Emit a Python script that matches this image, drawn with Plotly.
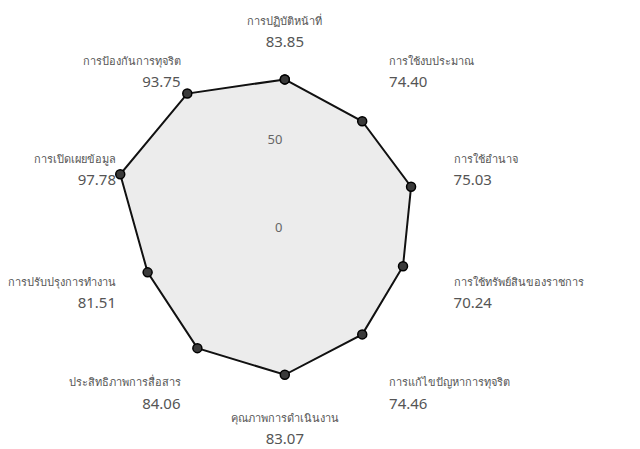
import plotly.graph_objects as go

# ITA indicators (Thai) and their scores
categories = [
    "การปฏิบัติหน้าที่",
    "การใช้งบประมาณ",
    "การใช้อำนาจ",
    "การใช้ทรัพย์สินของราชการ",
    "การแก้ไขปัญหาการทุจริต",
    "คุณภาพการดำเนินงาน",
    "ประสิทธิภาพการสื่อสาร",
    "การปรับปรุงการทำงาน",
    "การเปิดเผยข้อมูล",
    "การป้องกันการทุจริต",
]
scores = [83.85, 74.40, 75.03, 70.24, 74.46, 83.07, 84.06, 81.51, 97.78, 93.75]
radial_ticks = [0, 50]

# category name on top, score underneath
tick_text = [
    "<span style='font-size:11px'>%s</span><br><span style='font-size:15px'>%.2f</span>" % (c, v)
    for c, v in zip(categories, scores)
]

fig = go.Figure()
fig.add_trace(go.Scatterpolar(
    r=scores + scores[:1],
    theta=categories + categories[:1],
    mode="lines+markers",
    fill="toself",
    fillcolor="#ececec",
    line=dict(color="#111111", width=2),
    marker=dict(size=9, color="#3a3a3a", line=dict(color="#000000", width=1.5)),
    showlegend=False,
))

fig.update_layout(
    width=640,
    height=449,
    margin=dict(l=0, r=0, t=0, b=0),
    paper_bgcolor="white",
    font=dict(family="Noto Sans, DejaVu Sans, sans-serif", color="#555555"),
    polar=dict(
        domain=dict(x=[0.156, 0.709], y=[0.116, 0.905]),
        bgcolor="white",
        angularaxis=dict(
            direction="clockwise",
            rotation=90,
            showline=False,
            showgrid=False,
            ticks="",
            tickmode="array",
            tickvals=categories,
            ticktext=tick_text,
            tickfont=dict(size=17, color="#555555"),
        ),
        radialaxis=dict(
            range=[0, 100],
            angle=90,
            tickangle=90,
            side="counterclockwise",
            tickvals=radial_ticks,
            showline=False,
            showgrid=False,
            ticks="",
            tickfont=dict(size=13, color="#666666"),
        ),
    ),
)

fig.write_html("out.html")
